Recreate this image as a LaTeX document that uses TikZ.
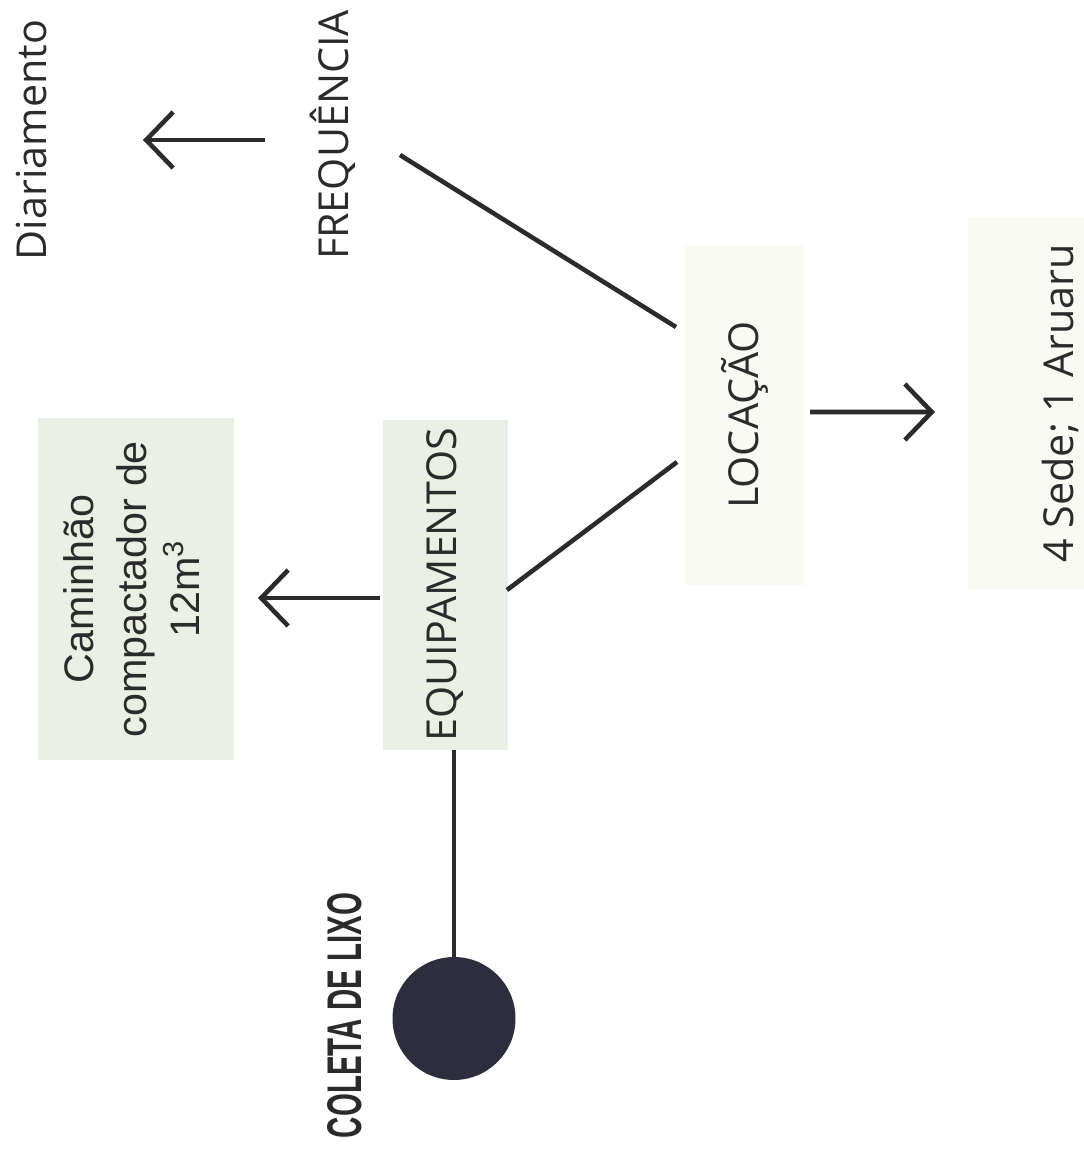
\documentclass[tikz,border=0pt]{standalone}
\usepackage{fontspec}
\usepackage{graphicx}
\setmainfont{Open Sans}
\newfontfamily\arialfont{Liberation Sans}
\newfontfamily\condfont{Liberation Sans}
\usetikzlibrary{arrows.meta}
\definecolor{boxgreen}{HTML}{EAF0E3}
\definecolor{boxpale}{HTML}{FAFAF5}
\definecolor{ink}{HTML}{2B2B2B}
\definecolor{dotcol}{HTML}{2E2D3E}
\begin{document}
\begin{tikzpicture}[x=0.02cm,y=-0.02cm,
  lbl/.style={inner sep=0pt, text=ink, font=\fontsize{23.5}{28}\selectfont},
  boxnode/.style={draw=none, inner sep=0pt},
  conn/.style={draw=ink, line width=2.6pt},
  arr/.style={conn, -{Straight Barb[length=0.54cm,width=1.12cm]}},
]
\clip (0,0) rectangle (1084,1154);
\fill[white] (0,0) rectangle (1084,1154);
% boxes
\node[boxnode, lbl, fill=boxpale, minimum width=2.4cm, minimum height=6.8cm] (loc) at (745,415) {\rotatebox{90}{LOCAÇÃO}};
\node[boxnode, lbl, fill=boxpale, minimum width=3.68cm, minimum height=7.46cm] (sede) at (1060,403.5) {\rotatebox{90}{4 Sede; 1 Aruaru}};
\node[boxnode, lbl, fill=boxgreen, minimum width=2.5cm, minimum height=6.6cm] (equip) at (445.5,585) {\rotatebox{90}{EQUIPAMENTOS}};
\node[boxnode, lbl, fill=boxgreen, minimum width=3.92cm, minimum height=6.84cm, font=\arialfont\fontsize{23.5}{30}\selectfont] (cam) at (136,589) {\rotatebox{90}{\begin{tabular}{@{}c@{}}Caminhão\\compactador de\\12m\textsuperscript{3}\end{tabular}}};
% plain labels
\node[lbl] (diar) at (32,140) {\rotatebox{90}{Diariamento}};
\node[lbl] (freq) at (333,135) {\rotatebox{90}{FREQUÊNCIA}};
\node[circle, fill=dotcol, minimum size=2.46cm, inner sep=0pt] (dot) at (454,1018.5) {};
\node[inner sep=0pt, text=ink] (coleta) at (345,1015.5) {\rotatebox{90}{\resizebox{4.9cm}{0.68cm}{\condfont\bfseries COLETA DE LIXO}}};
% connectors
\draw[conn] ([shift={(67,20)}]freq.center) -- ([shift={(-69,-88)}]loc.center);
\draw[conn] ([shift={(-68,47)}]loc.center) -- ([shift={(61.5,5)}]equip.center);
\draw[arr] ([shift={(-68,5)}]freq.center) -- ([shift={(111,0)}]diar.center);
\draw[arr] ([shift={(65,-3)}]loc.center) -- ([shift={(-125,8.5)}]sede.center);
\draw[arr] ([shift={(-65.5,13)}]equip.center) -- ([shift={(122,9)}]cam.center);
\draw[conn] (dot.north) -- (dot.north |- equip.south);
\end{tikzpicture}
\end{document}
